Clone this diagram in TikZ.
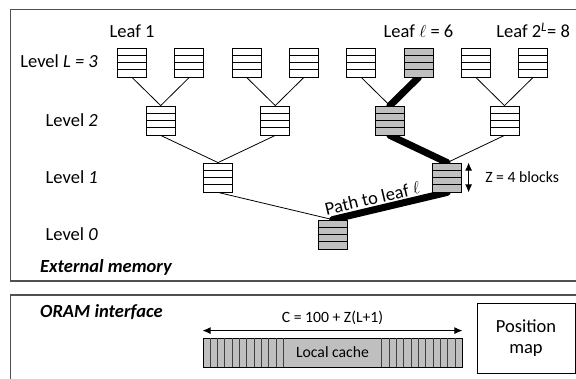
\documentclass[tikz,border=0pt]{standalone}
\usepackage{fontspec}
\setmainfont{Carlito}
\usetikzlibrary{arrows.meta,positioning,backgrounds}
\definecolor{onpath}{HTML}{BFBFBF}
\definecolor{frameline}{HTML}{505050}
\definecolor{slot}{HTML}{404040}
\newcommand{\treefont}{\fontsize{18.5}{21}\selectfont}
\newcommand{\notefont}{\fontsize{15.7}{18}\selectfont}

\begin{document}
\begin{tikzpicture}[x=1pt,y=-1pt,font=\treefont,
  bucket/.style={draw,fill=#1,minimum width=29pt,minimum height=29pt,inner sep=0pt,line width=.8pt,
    path picture={\foreach \k in {1,2,3}
      \draw[line width=.8pt] ([yshift=\k*7.25pt]path picture bounding box.south west) -- ([yshift=\k*7.25pt]path picture bounding box.south east);}},
  bucket/.default=white,
  edge/.style={line width=.8pt},
  pathedge/.style={line width=7pt,line cap=round},
  lvl/.style={anchor=base east,inner sep=0pt},
  leaflabel/.style={inner sep=0pt,text depth=0pt},
  note/.style={font=\notefont,inner sep=0pt},
  dim/.style={{Latex[length=8pt,width=7pt]}-{Latex[length=8pt,width=7pt]},line width=.8pt}]
  \clip (0,0) rectangle (576,379);
  % memory frames
  \draw[frameline,line width=1.3pt] (10.5,9.5) rectangle (590,281);
  \draw[frameline,line width=1.3pt] (10.5,295) rectangle (590,395);
  % level 3 (leaves)
  \node[bucket] (b30) at (132,62.5) {};
  \node[bucket] (b31) at (189.3,62.5) {};
  \node[bucket] (b32) at (246.6,62.5) {};
  \node[bucket] (b33) at (303.9,62.5) {};
  \node[bucket] (b34) at (361.2,62.5) {};
  \node[bucket=onpath] (b35) at (418.5,62.5) {};
  \node[bucket] (b36) at (475.8,62.5) {};
  \node[bucket] (b37) at (533.1,62.5) {};
  % level 2
  \node[bucket] (b20) at (160.7,120.5) {};
  \node[bucket] (b21) at (275.3,120.5) {};
  \node[bucket=onpath] (b22) at (389.9,120.5) {};
  \node[bucket] (b23) at (504.5,120.5) {};
  % level 1 and root
  \node[bucket] (b10) at (218,177.5) {};
  \node[bucket=onpath] (b11) at (447.2,177.5) {};
  \node[bucket=onpath] (b0) at (332.6,234.5) {};
  % tree edges
  \draw[edge] (b30.south) -- (b20.north);
  \draw[edge] (b31.south) -- (b20.north);
  \draw[edge] (b32.south) -- (b21.north);
  \draw[edge] (b33.south) -- (b21.north);
  \draw[edge] (b34.south) -- (b22.north);
  \draw[edge] (b36.south) -- (b23.north);
  \draw[edge] (b37.south) -- (b23.north);
  \draw[edge] (b20.south) -- (b10.north);
  \draw[edge] (b21.south) -- (b10.north);
  \draw[edge] (b23.south) -- (b11.north);
  \draw[edge] (b10.south) -- (b0.north);
  \begin{scope}[on background layer]
    \draw[pathedge] (b35.south) -- (b22.north);
    \draw[pathedge] (b22.south) -- (b11.north);
    \draw[pathedge] (b0.north) -- (b11.south);
  \end{scope}
  \path (b0.north) -- (b11.south) node[pos=.37,sloped,above=5pt,inner sep=0pt] (pathlabel) {Path to leaf $\ell$};
  % labels
  \node[leaflabel,above=10pt of b30] (leaffirst) {Leaf 1};
  \node[leaflabel,above=10pt of b35] (leafell) {Leaf $\ell$ = 6};
  \node[leaflabel,above=10pt of b37] (leaflast) {Leaf 2\textsuperscript{\textit{L}}= 8};
  \node[lvl] (lvthree) at (98,67.5) {Level \textit{L = 3}};
  \node[lvl] (lvtwo) at (98,127) {Level \textit{2}};
  \node[lvl] (lvone) at (98,184) {Level \textit{1}};
  \node[lvl] (lvzero) at (98,241) {Level \textit{0}};
  \node[anchor=base west,inner sep=0pt,font=\treefont\bfseries\itshape] (extmem) at (40,273) {External memory};
  \node[note,right=23pt of b11] (zlabel) {Z = 4 blocks};
  \draw[dim] ([xshift=6.5pt]b11.north east) -- ([xshift=6.5pt]b11.south east);
  % ORAM interface
  \node[anchor=base west,inner sep=0pt,font=\treefont\bfseries\itshape] (oram) at (40,318) {ORAM interface};
  \node[draw,fill=onpath,line width=.8pt,minimum width=259pt,minimum height=29pt,inner sep=0pt,font=\notefont] (cache) at (332.5,352.5) {Local cache};
  \foreach \i in {1,...,11} {
    \draw[slot,line width=.8pt] ([xshift=\i*7.33pt]cache.south west) -- ([xshift=\i*7.33pt]cache.north west);
    \draw[slot,line width=.8pt] ([xshift=-\i*7.33pt]cache.south east) -- ([xshift=-\i*7.33pt]cache.north east);
  }
  \draw[dim] ([yshift=7pt]cache.north west) -- ([yshift=7pt]cache.north east) node[midway,above=6pt,note] (cachesize) {C = 100 + Z(L+1)};
  \node[draw,line width=.8pt,minimum width=98pt,minimum height=70pt,align=center,inner sep=0pt] (posmap) at (526,338) {Position\\map};
\end{tikzpicture}
\end{document}
